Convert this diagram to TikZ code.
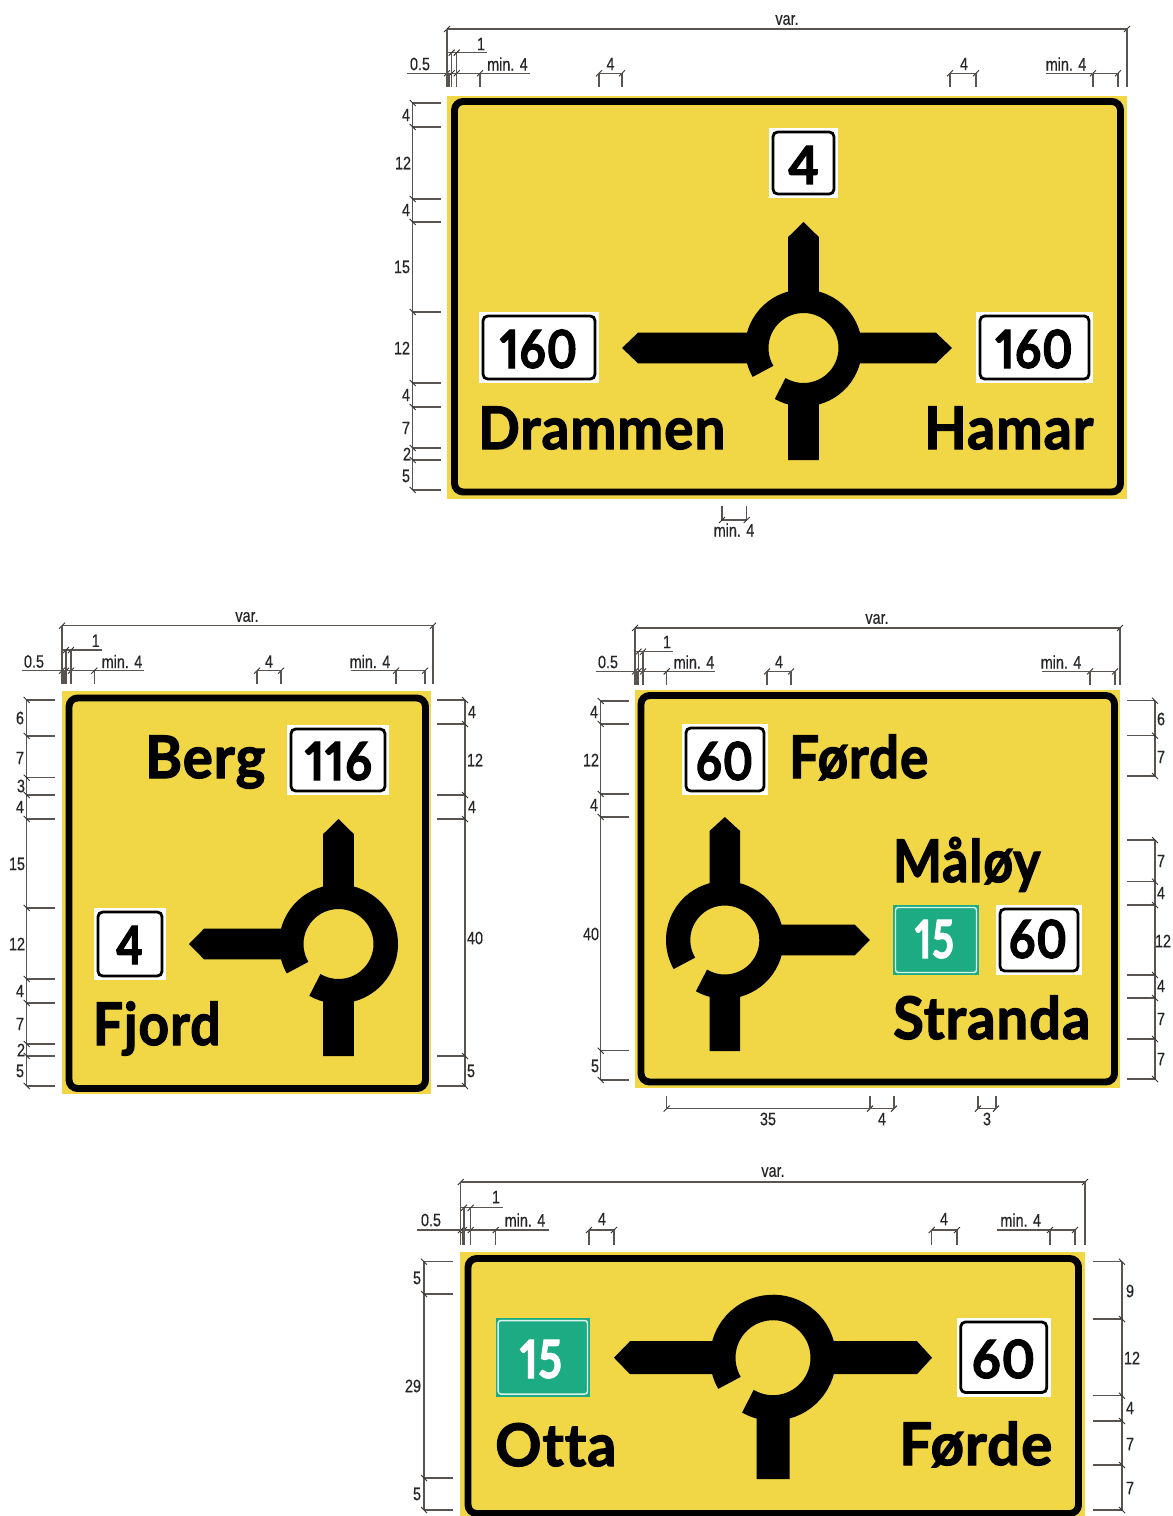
\documentclass[tikz,border=0pt]{standalone}
\usepackage{fontspec}
\usepackage{graphicx}
\setmainfont{Liberation Sans}
\newfontfamily\signfont[Numbers={Lining,Proportional},Ligatures=NoCommon,BoldFeatures={FakeBold=2.2,LetterSpace=2}]{Lato}
\newfontfamily\dimfont[FakeBold=0.5]{Liberation Sans}
\definecolor{signyellow}{HTML}{F1D646}
\definecolor{signgreen}{HTML}{1CAB82}
\definecolor{dimgrey}{HTML}{5A5450}
\newcount\autolbl
\tikzset{
  dimline/.style={draw=dimgrey,line width=0.85pt},
  dimtick/.style={draw=black!80,line width=0.7pt},
  dimlabel/.style={inner sep=0pt,text=black!85,font=\dimfont\fontsize{13.5}{14}\selectfont},
  signtext/.style={inner sep=0pt,anchor=base west,font=\signfont\bfseries\fontsize{44}{50}\selectfont},
  platetext/.style={inner sep=0pt,anchor=base,font=\signfont\bfseries\fontsize{39.5}{46}\selectfont},
  panel/.style={fill=signyellow,draw=none},
  frameline/.style={draw=black,line width=5.2pt,rounded corners=6.5pt},
  plateline/.style={draw=black,line width=2.1pt,rounded corners=3.5pt},
}
\newcommand\vdimx[6]{% line x, ext from, ext to, first y, last y, list
  \draw[dimline] (#1,#4) -- (#1,#5);
  \foreach \yy in {#6}{
    \draw[dimline] (#2,\yy) -- (#3,\yy);
    \draw[dimtick] (#1-3,\yy-3) -- (#1+3,\yy+3);
  }}
\newcommand\hdimx[4]{% y, x1, x2, ticks
  \draw[dimline] (#2,#1) -- (#3,#1);
  \foreach \xx in {#4}{
    \draw[dimtick] (\xx-3,#1+3) -- (\xx+3,#1-3);
  }}
\newcommand\vextx[3]{% x, y1, y2: drop line
  \draw[dimline] (#1,#2) -- (#1,#3);}
\newcommand\lab[3]{%
  \global\advance\autolbl by 1
  \node[dimlabel] (lab\the\autolbl) at (#1,#2) {\scalebox{.8}[1]{#3}};}
\newcommand\signword[4]{% left x, baseline, width, text
  \global\advance\autolbl by 1
  \node[signtext] (word\the\autolbl) at (#1,#2) {\resizebox{\dimexpr #3pt*3/4\relax}{\height}{#4}};}
\newcommand\platenum[5][black]{% colour; centre x, baseline, width, text
  \global\advance\autolbl by 1
  \node[platetext,text=#1] (num\the\autolbl) at (#2,#3) {\resizebox{\dimexpr #4pt*3/4\relax}{\height}{#5}};}
\newcommand\plate[4]{%
  \fill[white] (#1,#2) rectangle (#3,#4);
  \draw[plateline] (#1+4,#2+4) rectangle (#3-4,#4-4);}
\newcommand\greenplate[4]{%
  \fill[signgreen] (#1,#2) rectangle (#3,#4);
  \draw[draw=white!85!signgreen,line width=1.1pt,rounded corners=2pt] (#1+2.5,#2+2.5) rectangle (#3-2.5,#4-2.5);}
% ring with gap at lower left
\newcommand\ring[4]{% cx, cy, R, r
  \begin{scope}[shift={(#1,#2)},yscale=-1]
    \pgfmathsetmacro\rmid{(#3+#4)/2}
    \pgfmathsetmacro\rwid{(#3-#4)*0.75}
    \draw[black,line width=\rwid pt] (240:\rmid) arc[start angle=240,end angle=570,radius=\rmid];
  \end{scope}}
\newcommand\arm[7]{% cx, cy, angle, start, shoulder, tip, half width
  \begin{scope}[shift={(#1,#2)},rotate=#3]
      \fill[black] (#4,-#7) -- (#5,-#7) -- (#6,0) -- (#5,#7) -- (#4,#7) -- cycle;
  \end{scope}}
\begin{document}
\begin{tikzpicture}[x=0.75pt,y=-0.75pt]
\useasboundingbox (0,0) rectangle (1173,1516);
\fill[white] (0,0) rectangle (1173,1516);

%%%%%%%%% SIGN 1
\fill[panel] (447,96) rectangle (1127,499);
\draw[frameline] (454.5,101.5) rectangle (1120.5,492);
\plate{769}{128}{838}{198}
\plate{479}{312}{599}{383}
\plate{976}{312}{1093}{383}
\platenum{803.5}{184}{31}{4}
\platenum{538.5}{368}{77}{160}
\platenum{1034}{368}{77}{160}
\signword{478}{449}{247}{Drammen}
\signword{924}{449}{169}{Hamar}
\arm{803.5}{348}{90}{46}{111}{126}{15.3}
\arm{803.5}{348}{270}{46}{112}{112}{15.3}
\arm{803.5}{348}{180}{46}{165.5}{181.5}{15.3}
\arm{803.5}{348}{0}{46}{132.5}{148.5}{15.3}
\ring{803.5}{348}{58.5}{35}
% dims
\hdimx{29}{447}{1127}{447,1127}
\hdimx{52.7}{447}{487}{451.7,456.7}
\hdimx{73.3}{407}{530}{447,451.7,456.7,480}
\hdimx{73.3}{599}{622}{599,622}
\hdimx{73.3}{950}{976}{950,976}
\hdimx{73.3}{1046}{1118}{1093,1118}
\foreach \xx/\yy in {447/29,449/73.3,451.7/52.7,456.7/52.7,480/73.3,599/73.3,622/73.3,950/73.3,976/73.3,1093/73.3,1118/73.3,1127/29}{\vextx{\xx}{\yy}{87}}
\lab{420}{64}{0.5}\lab{481}{44}{1}\lab{507.5}{64}{min. 4}\lab{610.5}{64}{4}\lab{964}{64}{4}\lab{1066}{64}{min. 4}\lab{787}{20}{var.}
\vdimx{412.7}{412.7}{441}{103}{490}{103,127,199,222,312,383,407,448,460,490}
\lab{406}{115}{4}\lab{403}{163}{12}\lab{406}{210}{4}\lab{402}{267}{15}\lab{402}{348}{12}\lab{406}{395}{4}\lab{406}{428}{7}\lab{407}{454}{2}\lab{406}{476}{5}
\vextx{722}{505.7}{520}\vextx{746.7}{505.7}{520}
\hdimx{520}{722}{746.7}{722,746.7}
\lab{734}{530}{min. 4}

%%%%%%%%% SIGN 2
\fill[panel] (62,691) rectangle (431,1094);
\draw[frameline] (69,698) rectangle (425.5,1088.5);
\plate{287}{725}{389}{795}
\plate{94}{908}{166}{980}
\platenum{338.5}{780}{67}{116}
\platenum{129.5}{964}{27}{4}
\signword{145}{778}{120}{Berg}
\signword{92.7}{1045}{127.5}{Fjord}
\arm{338.5}{944}{90}{46}{110}{125}{15.3}
\arm{338.5}{944}{270}{46}{112}{112}{15.3}
\arm{338.5}{944}{180}{46}{134.5}{149.5}{15.3}
\ring{338.5}{944}{59.5}{35}
\hdimx{625.7}{62}{433}{62,433}
\hdimx{650}{62}{101.7}{66,71}
\hdimx{670.7}{21.7}{144}{62,66,71,94.3}
\hdimx{670.7}{257}{281}{257,281}
\hdimx{670.7}{351}{425}{396,425}
\foreach \xx/\yy in {62/625.7,64/670.7,66/650,71/650,94.3/670.7,257/670.7,281/670.7,396/670.7,425/670.7,433/625.7}{\vextx{\xx}{\yy}{684}}
\lab{34}{661.5}{0.5}\lab{95.7}{640.7}{1}\lab{122}{661.5}{min. 4}\lab{269}{661.5}{4}\lab{370}{661.5}{min. 4}\lab{247}{617}{var.}
\vdimx{26.7}{26.7}{55}{700}{1086}{700,736,777.7,795,819,908,979,1003,1044,1056,1086}
\lab{20}{718}{6}\lab{20}{758}{7}\lab{21}{786}{3}\lab{20}{807}{4}\lab{17}{864}{15}\lab{17}{944}{12}\lab{20}{991}{4}\lab{20}{1024}{7}\lab{21}{1050}{2}\lab{20}{1071}{5}
\vdimx{465}{437}{465}{700}{1086}{700,724,795,819,1056,1086}
\lab{472}{712}{4}\lab{475}{760}{12}\lab{472}{807}{4}\lab{475}{938}{40}\lab{471}{1071}{5}

%%%%%%%%% SIGN 3
\fill[panel] (635,690) rectangle (1120,1088);
\draw[frameline] (641,695.5) rectangle (1114.5,1082);
\plate{682}{724}{768}{795}
\plate{996}{905}{1082}{975}
\greenplate{893}{905}{979}{975}
\platenum{724.5}{780}{57}{60}
\platenum{1038}{958}{58}{60}
\platenum[white]{934.5}{958}{39}{15}
\signword{789}{778}{139}{Førde}
\signword{892.7}{882}{147.5}{Måløy}
\signword{893}{1039}{197}{Stranda}
\arm{724.8}{940}{90}{46}{109}{123}{15.3}
\arm{724.8}{940}{270}{46}{111}{111}{15.3}
\arm{724.8}{940}{0}{46}{130}{145}{15.3}
\ring{724.8}{940}{58.8}{34.5}
\hdimx{628}{635}{1120}{635,1120}
\hdimx{651.7}{635}{673}{638.5,643}
\hdimx{671.4}{595.7}{715}{635,638.5,643,666.7}
\hdimx{671.4}{767}{791}{767,791}
\hdimx{671.4}{1042}{1116}{1090,1115}
\foreach \xx/\yy in {635/628,637/671.4,638.5/651.7,643/651.7,666.7/671.4,767/671.4,791/671.4,1090/671.4,1115/671.4,1120/628}{\vextx{\xx}{\yy}{685}}
\lab{608}{662}{0.5}\lab{667}{642}{1}\lab{694}{662}{min. 4}\lab{779}{662}{4}\lab{1061}{662}{min. 4}\lab{877}{619}{var.}
\vdimx{600.7}{600.7}{629}{701}{1080}{701,724,794,817,1050.7,1080}
\lab{594}{712}{4}\lab{591}{760}{12}\lab{594}{805}{4}\lab{591}{934}{40}\lab{595}{1066}{5}
\vdimx{1155}{1127}{1155}{700.7}{776}{700.7,735.7,776}
\vdimx{1155}{1127}{1155}{840}{1079}{840,881.7,905,975,998,1039,1079}
\lab{1161}{719}{6}\lab{1161}{757}{7}\lab{1161}{861}{7}\lab{1161}{893}{4}\lab{1163}{941}{12}\lab{1161}{986}{4}\lab{1161}{1019}{7}\lab{1161}{1059}{7}
\hdimx{1108.6}{666.7}{894}{666.7,870,894}
\hdimx{1108.6}{978}{996}{978,996}
\foreach \xx in {666.7,870,894,978,996}{\vextx{\xx}{1095.5}{1108.6}}
\lab{768}{1119}{35}\lab{882}{1119}{4}\lab{987}{1119}{3}

%%%%%%%%% SIGN 4
\fill[panel] (460,1252) rectangle (1085,1516);
\draw[frameline] (468,1258.5) rectangle (1078.5,1513.5);
\greenplate{495.7}{1318}{590}{1396.5}
\plate{956.7}{1318}{1050.7}{1396.5}
\platenum[white]{541}{1378}{42}{15}
\platenum{1003.5}{1378}{63}{60}
\signword{495}{1466}{121}{Otta}
\signword{899}{1465}{153}{Førde}
\arm{773}{1357.7}{270}{50}{121.3}{121.3}{16.5}
\arm{773}{1357.7}{180}{50}{143}{159}{16.5}
\arm{773}{1357.7}{0}{50}{144}{159}{16.5}
\ring{773}{1357.7}{63}{37.5}
\hdimx{1182}{460.7}{1085}{460.7,1085}
\hdimx{1207.7}{460.7}{503}{464,470.7}
\hdimx{1230}{417}{549}{461,464,470.7,495.7}
\hdimx{1230}{589}{614}{589,614}
\hdimx{1230}{931.7}{957}{931.7,957}
\hdimx{1230}{996.7}{1075}{1050,1075}
\foreach \xx/\yy in {460.7/1182,462.5/1230,464/1207.7,470.7/1207.7,495.7/1230,589/1230,614/1230,931.7/1230,957/1230,1050/1230,1075/1230,1085/1182}{\vextx{\xx}{\yy}{1245}}
\lab{431}{1220}{0.5}\lab{496}{1197}{1}\lab{525}{1220}{min. 4}\lab{602}{1219}{4}\lab{944}{1219}{4}\lab{1020.7}{1220}{min. 4}\lab{773}{1172}{var.}
\vdimx{424}{424}{453}{1261.7}{1510}{1261.7,1294,1478,1510}
\lab{417}{1278}{5}\lab{413}{1386}{29}\lab{417}{1494}{5}
\vdimx{1122}{1092.7}{1122}{1261.7}{1510}{1261.7,1319,1395.7,1421,1465,1510}
\lab{1130}{1291}{9}\lab{1132}{1358}{12}\lab{1130}{1408}{4}\lab{1130}{1444}{7}\lab{1130}{1488}{7}
\end{tikzpicture}
\end{document}
